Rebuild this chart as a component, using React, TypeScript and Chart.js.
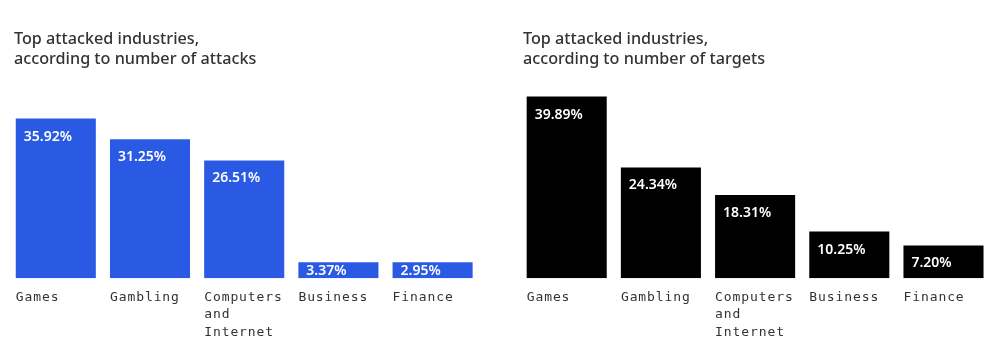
import React, { useEffect, useRef } from 'react';
import { Chart, registerables } from 'chart.js';

Chart.register(...registerables);

const categories: (string | string[])[] = ['Games', 'Gambling', ['Computers', 'and', 'Internet'], 'Business', 'Finance'];
const attacksValues = [35.92, 31.25, 26.51, 3.37, 2.95];
const targetsValues = [39.89, 24.34, 18.31, 10.25, 7.2];
const attacksTitle = ['Top attacked industries,', 'according to number of attacks'];
const targetsTitle = ['Top attacked industries,', 'according to number of targets'];

const valueLabelPlugin = {
  id: 'valueLabels',
  beforeDraw(chart: any) {
    chart.ctx.letterSpacing = '0.9px';
  },
  afterDatasetsDraw(chart: any) {
    const ctx = chart.ctx;
    ctx.save();
    ctx.letterSpacing = '0px';
    ctx.font = '600 14px "Noto Sans"';
    ctx.fillStyle = '#ffffff';
    ctx.textAlign = 'left';
    ctx.textBaseline = 'alphabetic';
    const meta = chart.getDatasetMeta(0);
    const data = chart.data.datasets[0].data as number[];
    meta.data.forEach((bar: any, i: number) => {
      const { x, y, base, width } = bar.getProps(['x', 'y', 'base', 'width'], true);
      const ty = Math.min(y + 22, (y + base) / 2 + 5);
      ctx.fillText(data[i].toFixed(2) + '%', x - width / 2 + 8, ty);
    });
    ctx.restore();
  },
  afterDraw(chart: any) {
    chart.ctx.letterSpacing = '0px';
  },
};

type PanelProps = {
  values: number[];
  color: string;
  yMax: number;
  left: number;
  width: number;
  padLeft: number;
  padRight: number;
};

function BarPanel({ values, color, yMax, left, width, padLeft, padRight }: PanelProps) {
  const ref = useRef<HTMLCanvasElement | null>(null);
  useEffect(() => {
    if (!ref.current) return;
    const chart = new Chart(ref.current, {
      type: 'bar',
      data: {
        labels: categories,
        datasets: [
          {
            data: values,
            backgroundColor: color,
            borderWidth: 0,
            barPercentage: 0.85,
            categoryPercentage: 1,
            minBarLength: 16,
          },
        ],
      },
      options: {
        responsive: false,
        animation: false,
        devicePixelRatio: 1,
        layout: { padding: { left: padLeft, right: padRight, top: 96, bottom: 2 } },
        plugins: { legend: { display: false }, tooltip: { enabled: false }, title: { display: false } },
        scales: {
          x: {
            grid: { display: false, drawTicks: false },
            border: { display: false },
            ticks: {
              align: 'start',
              labelOffset: -40,
              padding: 10,
              autoSkip: false,
              maxRotation: 0,
              minRotation: 0,
              color: '#333333',
              font: { family: '"DejaVu Sans Mono", monospace', size: 13, lineHeight: 1.35 },
            },
          },
          y: {
            display: false,
            min: 0,
            max: yMax,
          },
        },
      },
      plugins: [valueLabelPlugin],
    } as any);
    return () => chart.destroy();
  }, [values, color, yMax, padLeft, padRight]);
  return (
    <canvas
      ref={ref}
      width={width}
      height={353}
      style={{ position: 'absolute', left, top: 0, width, height: 353 }}
    />
  );
}

const titleStyle: React.CSSProperties = {
  position: 'absolute',
  top: 28,
  fontFamily: '"Noto Sans", sans-serif',
  fontSize: 16.2,
  fontWeight: 500,
  lineHeight: '20px',
  color: '#333333',
  whiteSpace: 'nowrap',
};

export default function App() {
  return (
    <div
      style={{
        position: 'absolute',
        left: 0,
        top: 0,
        width: 1000,
        height: 353,
        overflow: 'hidden',
        background: '#ffffff',
      }}
    >
      <BarPanel values={attacksValues} color="#2A5AE3" yMax={41} left={0} width={510} padLeft={8.7} padRight={30.3} />
      <BarPanel values={targetsValues} color="#000000" yMax={40} left={500} width={520} padLeft={19.6} padRight={29.4} />
      <div style={{ ...titleStyle, left: 14 }}>
        {attacksTitle.map((t) => (
          <div key={t}>{t}</div>
        ))}
      </div>
      <div style={{ ...titleStyle, left: 523 }}>
        {targetsTitle.map((t) => (
          <div key={t}>{t}</div>
        ))}
      </div>
    </div>
  );
}
